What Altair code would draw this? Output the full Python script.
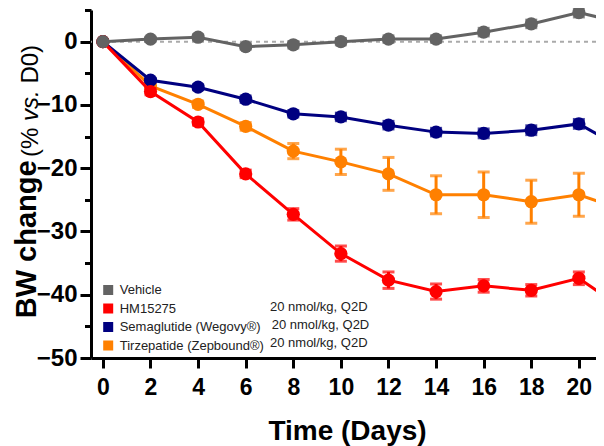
import altair as alt
import pandas as pd

FONT = "Liberation Sans"

days = [0, 2, 4, 6, 8, 10, 12, 14, 16, 18, 20, 21]
vehicle = [0.0, 0.4, 0.7, -0.8, -0.5, 0.0, 0.4, 0.4, 1.5, 2.8, 4.6, 3.7]
vehicle_err = [0.0, 0.3, 0.4, 0.4, 0.5, 0.5, 0.5, 0.5, 0.6, 0.6, 0.7, 0.7]
hm15275 = [0.0, -7.9, -12.7, -20.9, -27.3, -33.5, -37.7, -39.5, -38.6, -39.3, -37.4, -40.0]
hm15275_err = [0.0, 0.5, 0.5, 0.6, 0.9, 1.2, 1.3, 1.2, 1.0, 0.9, 1.0, 1.0]
semaglutide = [0.0, -6.1, -7.2, -9.1, -11.4, -11.9, -13.2, -14.3, -14.5, -14.0, -13.0, -15.1]
semaglutide_err = [0.0, 0.3, 0.4, 0.5, 0.5, 0.6, 0.6, 0.6, 0.7, 0.7, 0.7, 0.7]
tirzepatide = [0.0, -7.0, -9.9, -13.4, -17.3, -19.0, -20.9, -24.2, -24.2, -25.3, -24.2, -25.5]
tirzepatide_err = [0.0, 0.4, 0.5, 0.6, 1.2, 2.0, 2.6, 3.0, 3.6, 3.4, 3.4, 3.4]

groups = ["Vehicle", "HM15275", "Semaglutide (Wegovy®)", "Tirzepatide (Zepbound®)"]
colors = ["#636363", "#ff0000", "#000080", "#ff8000"]
dose_label = "20 nmol/kg, Q2D"
x_ticks = [0, 2, 4, 6, 8, 10, 12, 14, 16, 18, 20]
y_major = [0, -10, -20, -30, -40, -50]
y_minor = [5, -5, -15, -25, -35, -45]

series = {
    groups[0]: (vehicle, vehicle_err),
    groups[1]: (hm15275, hm15275_err),
    groups[2]: (semaglutide, semaglutide_err),
    groups[3]: (tirzepatide, tirzepatide_err),
}
rows = []
for g, (vals, errs) in series.items():
    for d, v, e in zip(days, vals, errs):
        rows.append({"day": d, "value": v, "lo": v - e, "hi": v + e, "err": e, "group": g})
df = pd.DataFrame(rows)

xs = alt.Scale(domain=[-0.5, 20.72], nice=False, zero=False)
ys = alt.Scale(domain=[-50, 5], nice=False, zero=False)
cs = alt.Scale(domain=groups, range=colors)

x_axis = alt.Axis(values=x_ticks, title=None, grid=False, domainWidth=3, domainColor="black",
                  tickWidth=3, tickSize=10, tickColor="black", labelFontSize=23,
                  labelFontWeight="bold", labelFont=FONT, labelColor="black", labelPadding=8,
                  labelFlush=False)
y_axis = alt.Axis(values=y_major, title=None, grid=False, domainWidth=3, domainColor="black",
                  tickWidth=3, tickSize=11, tickColor="black", labelFontSize=24,
                  labelFontWeight="bold", labelFont=FONT, labelColor="black", labelPadding=3,
                  orient="left")
y_minor_axis = alt.Axis(values=y_minor, title=None, grid=False, domain=False, labels=False,
                        tickWidth=3, tickSize=6.5, tickColor="black", orient="left")

legend = alt.Legend(orient="none", legendX=10.7, legendY=273.5, title=None, symbolType="square",
                    symbolSize=100, symbolStrokeWidth=0, symbolOpacity=1, labelFontSize=13,
                    labelFont=FONT, labelColor="#222222", labelOffset=5, rowPadding=4.5,
                    padding=0, symbolOffset=0, labelLimit=400)

X = alt.X("day:Q", scale=xs, axis=x_axis)

base = alt.Chart(df)

zero = alt.Chart(pd.DataFrame({"zero": [0]})).mark_rule(
    color="#aaaaaa", strokeWidth=2, strokeDash=[4, 4]
).encode(y=alt.Y("zero:Q", scale=ys, axis=y_minor_axis))

layers = [zero]
draw_order = [groups[3], groups[2], groups[1], groups[0]]
for i, g in enumerate(draw_order):
    sub = base.transform_filter(alt.datum.group == g)
    first = i == 0
    Y = alt.Y("value:Q", scale=ys, axis=y_axis if first else None)
    C = alt.Color("group:N", scale=cs, legend=legend if first else None)
    Cn = alt.Color("group:N", scale=cs, legend=None)
    line = sub.mark_line(strokeWidth=3).encode(x=X, y=Y, color=C)
    eb = sub.transform_filter(alt.datum.err > 0)
    rule = eb.mark_rule(strokeWidth=3).encode(
        x=X, y=alt.Y("lo:Q", scale=ys, axis=None), y2="hi:Q", color=Cn)
    cap_lo = eb.mark_tick(thickness=3, size=12, orient="horizontal").encode(
        x=X, y=alt.Y("lo:Q", scale=ys, axis=None), color=Cn)
    cap_hi = eb.mark_tick(thickness=3, size=12, orient="horizontal").encode(
        x=X, y=alt.Y("hi:Q", scale=ys, axis=None), color=Cn)
    pts = sub.mark_circle(size=175, opacity=1).encode(
        x=X, y=alt.Y("value:Q", scale=ys, axis=None), color=Cn)
    layers += [line, rule, cap_lo, cap_hi, pts]

one = pd.DataFrame({"a": [0]})


def label(text, x, y, size, weight="normal", style="normal", font=FONT, angle=0,
          align="left", baseline="alphabetic", color="black"):
    return alt.Chart(one).mark_text(
        text=text, font=font, fontSize=size, fontWeight=weight, fontStyle=style,
        angle=angle, align=align, baseline=baseline, color=color
    ).encode(x=alt.value(x), y=alt.value(y))


# y-axis title (mixed styles)
layers.append(label("BW change", -55.5, 308.3, 29, weight="bold", angle=270))
layers.append(label("(%", -53.4, 147, 24, angle=270))
layers.append(label("vs.", -53.4, 111, 24, style="italic", angle=270))
layers.append(label("D0)", -53.4, 73.6, 24, angle=270))
# x-axis title
layers.append(label("Time (Days)", 256.5, 430, 28, weight="bold", align="center"))
# dose column of legend
layers.append(label(dose_label, 179, 296.7, 13, baseline="middle", color="#222222"))
layers.append(label(dose_label, 180.7, 315, 13, baseline="middle", color="#222222"))
layers.append(label(dose_label, 179, 332.7, 13, baseline="middle", color="#222222"))

chart = alt.layer(*layers).resolve_axis(y="independent").resolve_scale(y="shared").properties(
    width=505, height=348,
    autosize=alt.AutoSizeParams(type="none"),
    padding={"left": 83, "top": 2, "right": 0, "bottom": 88},
    background="white",
).configure_view(stroke=None)

chart.save("out.html", embed_options={"renderer": "svg", "actions": False})
